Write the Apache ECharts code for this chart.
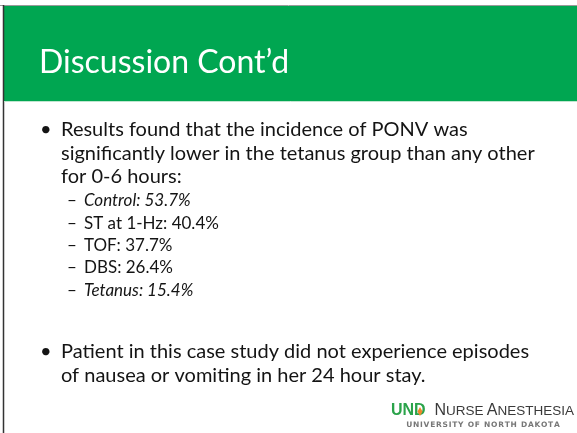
<!DOCTYPE html>
<html>
<head>
<meta charset="utf-8">
<script src="https://cdn.jsdelivr.net/npm/echarts@6/dist/echarts.min.js"></script>
<style>
  html, body { margin: 0; padding: 0; background: #fff; }
  #slide { width: 577px; height: 433px; }
</style>
</head>
<body>
<div id="slide"></div>
<script>
// slide data
var titleText = 'Discussion Cont\u2019d';
var bullet1Lines = [
  'Results found that the incidence of PONV was',
  'significantly lower in the tetanus group than any other',
  'for 0-6 hours:'
];
var groups = ['Control', 'ST at 1-Hz', 'TOF', 'DBS', 'Tetanus'];
var ponvRates = [53.7, 40.4, 37.7, 26.4, 15.4];
var italicGroups = [true, false, false, false, true];
var bullet2Lines = [
  'Patient in this case study did not experience episodes',
  'of nausea or vomiting in her 24 hour stay.'
];

var myChart = echarts.init(document.getElementById('slide'));
var font = 'Lato, "Open Sans", sans-serif';
var textColor = '#141414';
var green = '#00a651';

var elements = [];
// frame + banner
elements.push({ type: 'rect', shape: { x: 0, y: 0, width: 577, height: 433 }, style: { fill: '#fff' } });
elements.push({ type: 'rect', shape: { x: 3, y: 6, width: 574, height: 95 }, style: { fill: green } });
elements.push({ type: 'line', shape: { x1: 0, y1: 5.5, x2: 577, y2: 5.5 }, style: { stroke: '#9a9a9a', lineWidth: 1 } });
elements.push({ type: 'line', shape: { x1: 3.5, y1: 5, x2: 3.5, y2: 433 }, style: { stroke: '#333', lineWidth: 1.5 } });
elements.push({ type: 'line', shape: { x1: 4, y1: 101.5, x2: 577, y2: 101.5 }, style: { stroke: '#bfe6cf', lineWidth: 1 } });

elements.push({
  type: 'text', x: 39, y: 63,
  style: { text: titleText, fill: '#fff', font: '32px ' + font, verticalAlign: 'middle' }
});

// first bullet
elements.push({ type: 'text', x: 40, y: 130, style: { text: '\u2022', fill: textColor, font: '20px ' + font, verticalAlign: 'middle' } });
bullet1Lines.forEach(function (line, i) {
  elements.push({
    type: 'text', x: 61, y: 130 + i * 23.5,
    style: { text: line, fill: textColor, font: '20px ' + font, verticalAlign: 'middle' }
  });
});

// sub items
groups.forEach(function (name, i) {
  var y = 201 + i * 22.3;
  elements.push({ type: 'text', x: 67, y: y, style: { text: '\u2013', fill: textColor, font: '17px ' + font, verticalAlign: 'middle' } });
  elements.push({
    type: 'text', x: 84, y: y,
    style: {
      text: name + ': ' + ponvRates[i].toFixed(1) + '%',
      fill: textColor,
      font: (italicGroups[i] ? 'italic ' : '') + '17px ' + font,
      verticalAlign: 'middle'
    }
  });
});

// second bullet
elements.push({ type: 'text', x: 40, y: 352, style: { text: '\u2022', fill: textColor, font: '20px ' + font, verticalAlign: 'middle' } });
bullet2Lines.forEach(function (line, i) {
  elements.push({
    type: 'text', x: 61, y: 352 + i * 24,
    style: { text: line, fill: textColor, font: '20px ' + font, verticalAlign: 'middle' }
  });
});

// logo
elements.push({
  type: 'text', x: 391, y: 419,
  style: { text: 'UND', fill: '#2aa34a', font: 'bold 16px "Liberation Sans", sans-serif', verticalAlign: 'bottom' }
});
elements.push({
  type: 'polygon',
  shape: { points: [[420, 416], [417.5, 411.5], [420, 407], [422.5, 411.5]] },
  style: { fill: '#f0862b' }
});
elements.push({
  type: 'text', x: 574, y: 419,
  style: {
    text: '{n|N}{s|URSE} {n|A}{s|NESTHESIA}',
    align: 'right',
    verticalAlign: 'bottom',
    rich: {
      n: { font: '16px "Liberation Sans", sans-serif', fill: '#3a3a3a' },
      s: { font: '13.5px "Liberation Sans", sans-serif', fill: '#3a3a3a' }
    }
  }
});
elements.push({
  type: 'text', x: 483, y: 425,
  style: {
    text: 'UNIVERSITY OF NORTH DAKOTA'.split('').join('\u200A'),
    fill: '#777', font: 'bold 7.5px "DejaVu Sans", sans-serif',
    align: 'center', verticalAlign: 'middle'
  }
});

option = {
  backgroundColor: '#fff',
  animation: false,
  graphic: { elements: elements }
};
myChart.setOption(option, true);
window.addEventListener('resize', function () { myChart.resize(); });
</script>
</body>
</html>
